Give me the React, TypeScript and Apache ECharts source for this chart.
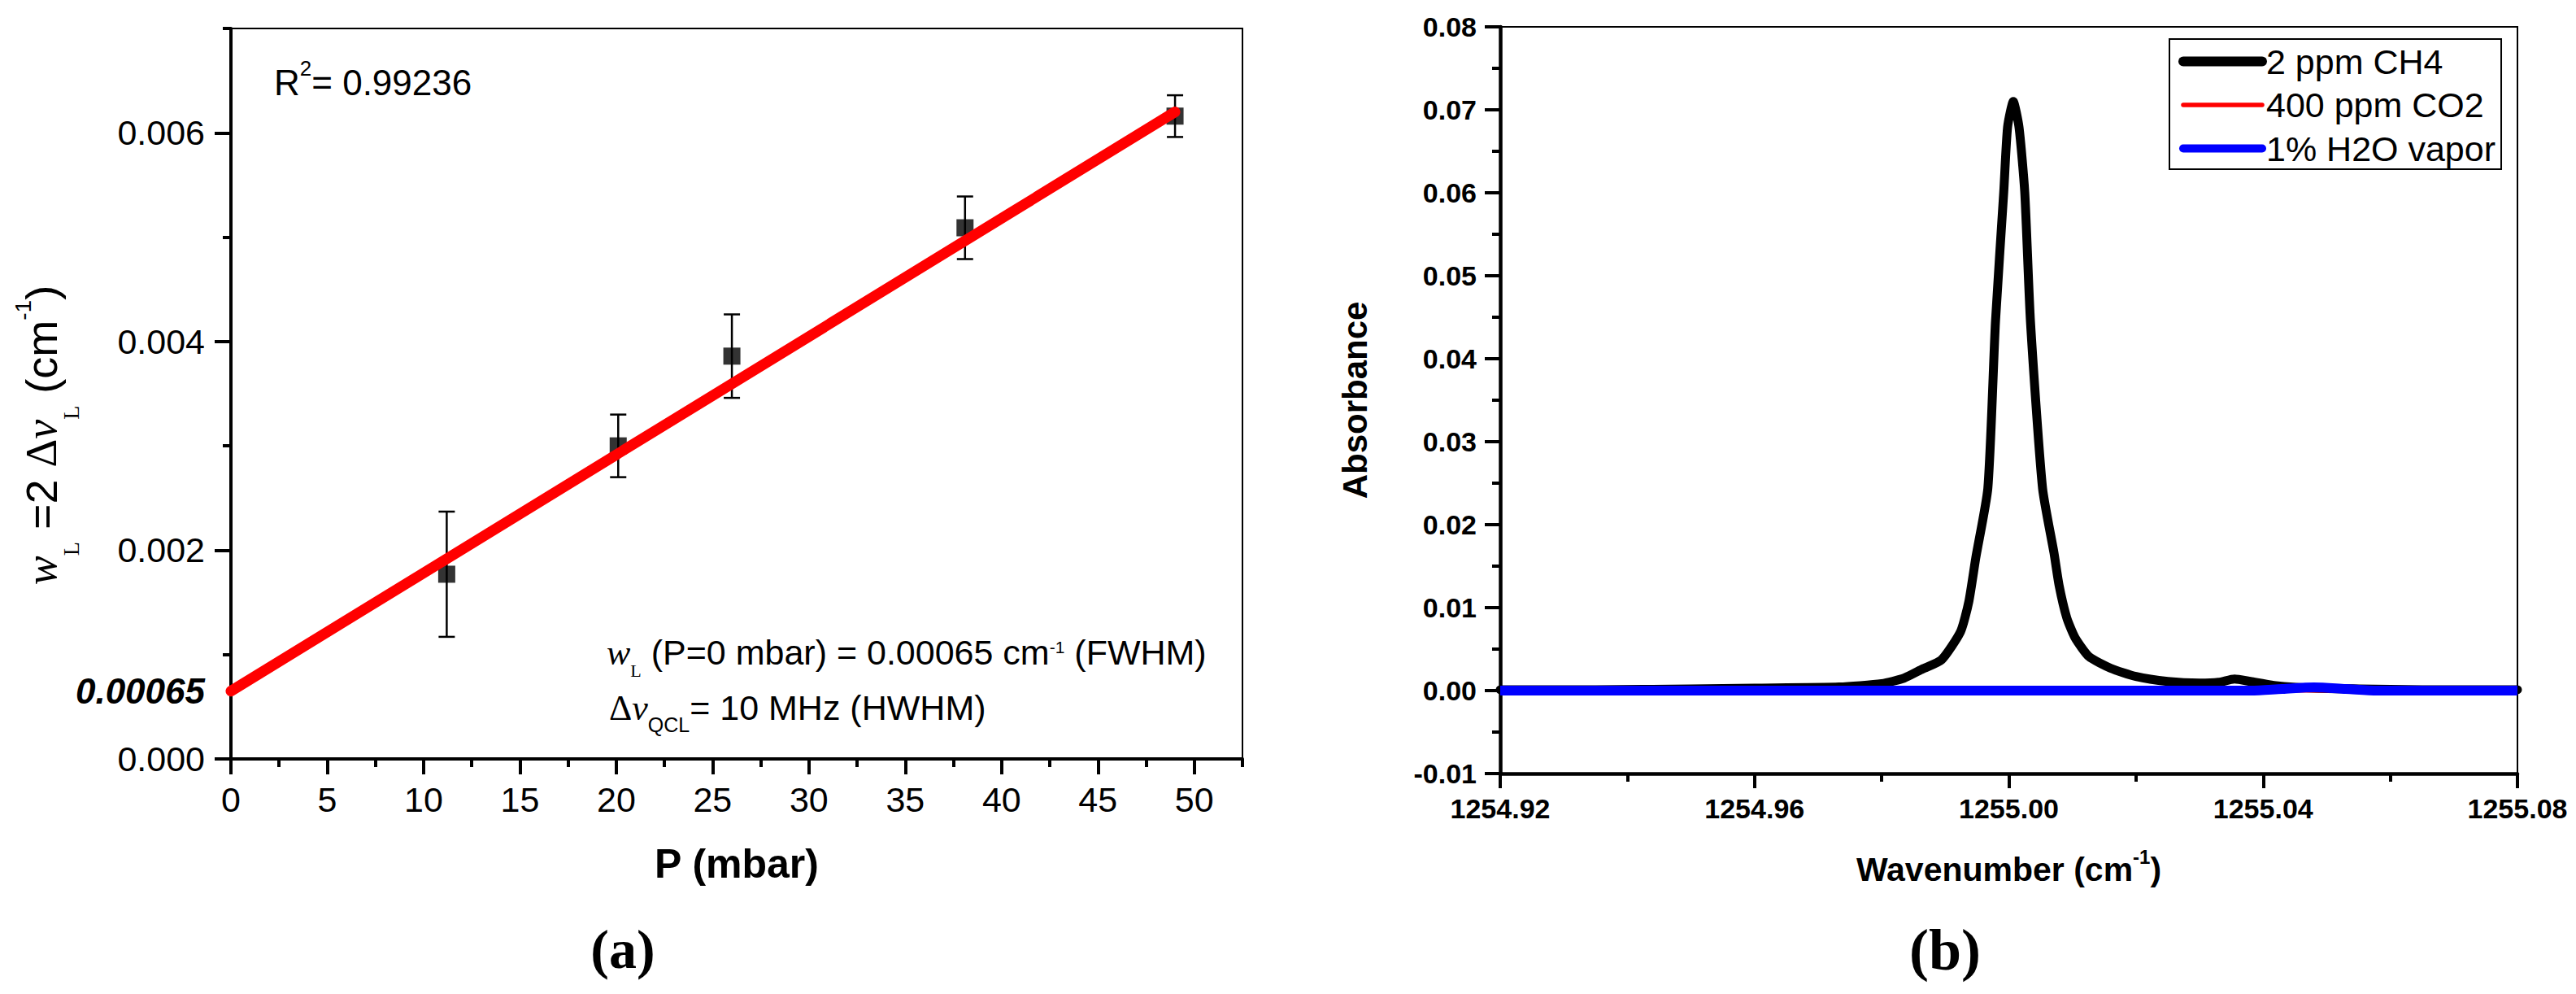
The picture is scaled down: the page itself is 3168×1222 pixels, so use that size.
import React, { useEffect, useRef } from 'react';
import * as echarts from 'echarts';

// ---------- Panel (a) data ----------
const pressure = [11.2, 20.1, 26.0, 38.1, 49.0];
const widthL = [0.00177, 0.0030, 0.00386, 0.00509, 0.00616];
const widthErr = [0.0006, 0.0003, 0.0004, 0.0003, 0.0002];
const fitP = [0, 49];
const fitW = [0.00065, 0.0062];
const aXTicks = [0, 5, 10, 15, 20, 25, 30, 35, 40, 45, 50];
const aXMinor = [2.5, 7.5, 12.5, 17.5, 22.5, 27.5, 32.5, 37.5, 42.5, 47.5, 52.5];
const aYTicks = [0, 0.002, 0.004, 0.006];
const aYLabels = [0, 0.00065, 0.002, 0.004, 0.006];
const aYMinor = [0.001, 0.003, 0.005, 0.007];

// ---------- Panel (b) data ----------
const ch4X = [1254.920, 1254.935, 1254.950, 1254.960, 1254.9733, 1254.980, 1254.9835, 1254.9864, 1254.9894, 1254.9924,
  1254.9937, 1254.9948, 1254.9967, 1254.9979, 1254.9992, 1254.9998, 1255.0007, 1255.0016, 1255.0025, 1255.0034,
  1255.0053, 1255.0071, 1255.0079, 1255.0091, 1255.0104, 1255.0126, 1255.0160, 1255.0200, 1255.0250, 1255.0300,
  1255.0330, 1255.0355, 1255.0380, 1255.0420, 1255.0480, 1255.0550, 1255.0650, 1255.0800];
const ch4Y = [0.0001, 0.0001, 0.0002, 0.0003, 0.00044, 0.00084, 0.0015, 0.0026, 0.0037, 0.0071,
  0.0107, 0.0160, 0.0244, 0.0445, 0.0601, 0.0679, 0.0710, 0.0679, 0.0601, 0.0445,
  0.0244, 0.0166, 0.0127, 0.0088, 0.0064, 0.0041, 0.0027, 0.0017, 0.0011, 0.0009,
  0.0010, 0.0014, 0.0011, 0.0006, 0.0003, 0.0002, 0.0001, 0.0001];
const co2X = [1254.92, 1255.08];
const co2Y = [0, 0];
const h2oX = [1254.92, 1255.038, 1255.043, 1255.048, 1255.053, 1255.058, 1255.08];
const h2oY = [0, 0, 0.0002, 0.0004, 0.0002, 0, 0];
const seriesNames = ['2 ppm CH4', '400 ppm CO2', '1% H2O vapor'];
const bXTicks = [1254.92, 1254.96, 1255.0, 1255.04, 1255.08];
const bXMinor = [1254.94, 1254.98, 1255.02, 1255.06];
const bYTicks = [-0.01, 0, 0.01, 0.02, 0.03, 0.04, 0.05, 0.06, 0.07, 0.08];
const bYMinor = [-0.005, 0.005, 0.015, 0.025, 0.035, 0.045, 0.055, 0.065, 0.075];

const SANS = "'Liberation Sans', Arial, Helvetica, sans-serif";
const SERIF = "'Liberation Serif', 'Times New Roman', serif";

const zip = (xs: number[], ys: number[]) => xs.map((x, i) => [x, ys[i]]);

function txt(style: any) {
  const s: any = { fill: '#000', ...style };
  if (s.align) { s.textAlign = s.align; }
  if (s.verticalAlign) { s.textVerticalAlign = s.verticalAlign; }
  return s;
}

function buildOption(): any {
  const axisLineStyle = (w: number) => ({ color: '#000', width: w });
  const minorAxis = (gridIndex: number, min: number, max: number, values: number[], pos: string) => ({
    gridIndex, type: 'value', min, max, position: pos,
    axisLine: { show: false, onZero: false },
    axisTick: { show: true, customValues: values, length: 10, lineStyle: { color: '#000', width: 4 } },
    axisLabel: { show: false },
    splitLine: { show: false },
  });

  return {
    animation: false,
    backgroundColor: '#ffffff',
    grid: [
      { left: 284, top: 35, width: 1244, height: 898, show: true, borderColor: '#000', borderWidth: 2, backgroundColor: 'transparent', outerBoundsMode: 'none' },
      { left: 284, top: 35, width: 1244, height: 898, outerBoundsMode: 'none' },
      { left: 1845, top: 33, width: 1251, height: 918, show: true, borderColor: '#000', borderWidth: 2, backgroundColor: 'transparent', outerBoundsMode: 'none' },
      { left: 1845, top: 33, width: 1251, height: 918, outerBoundsMode: 'none' },
    ],
    xAxis: [
      {
        gridIndex: 0, type: 'value', min: 0, max: 52.5, position: 'bottom',
        axisLine: { show: true, onZero: false, lineStyle: axisLineStyle(4) },
        axisTick: { show: true, customValues: aXTicks, length: 19, lineStyle: { color: '#000', width: 4 } },
        axisLabel: { show: true, customValues: aXTicks, margin: 28, fontSize: 43, fontFamily: SANS, color: '#000', formatter: (v: number) => String(v) },
        splitLine: { show: false },
        name: 'P (mbar)', nameLocation: 'middle', nameGap: 104, nameMoveOverlap: false,
        nameTextStyle: { fontSize: 50, fontWeight: 'bold', fontFamily: SANS, color: '#000' },
      },
      minorAxis(1, 0, 52.5, aXMinor, 'bottom'),
      {
        gridIndex: 2, type: 'value', min: 1254.92, max: 1255.08, position: 'bottom',
        axisLine: { show: true, onZero: false, lineStyle: axisLineStyle(4.5) },
        axisTick: { show: true, customValues: bXTicks, length: 18, lineStyle: { color: '#000', width: 4 } },
        axisLabel: { show: true, customValues: bXTicks, margin: 26, fontSize: 34, fontWeight: 'bold', fontFamily: SANS, color: '#000', formatter: (v: number) => v.toFixed(2) },
        splitLine: { show: false },
        name: '{n|Wavenumber (cm}{p|-1}{n|)}', nameLocation: 'middle', nameGap: 90, nameMoveOverlap: false,
        nameTextStyle: {
          fontSize: 41, fontWeight: 'bold', fontFamily: SANS, color: '#000',
          rich: {
            n: { fontSize: 41, fontWeight: 'bold', fontFamily: SANS, color: '#000', lineHeight: 56, verticalAlign: 'middle' },
            p: { fontSize: 24, fontWeight: 'bold', fontFamily: SANS, color: '#000', verticalAlign: 'top' },
          },
        },
      },
      minorAxis(3, 1254.92, 1255.08, bXMinor, 'bottom'),
    ],
    yAxis: [
      {
        gridIndex: 0, type: 'value', min: 0, max: 0.007, position: 'left',
        axisLine: { show: true, onZero: false, lineStyle: axisLineStyle(4) },
        axisTick: { show: true, customValues: aYTicks, length: 20, lineStyle: { color: '#000', width: 4 } },
        axisLabel: {
          show: true, customValues: aYLabels, margin: 32, fontSize: 43, fontFamily: SANS, color: '#000',
          formatter: (v: number) => (Math.abs(v - 0.00065) < 1e-9 ? '{b|0.00065}' : v.toFixed(3)),
          rich: { b: { fontSize: 44, fontWeight: 'bold', fontStyle: 'italic', fontFamily: SANS, color: '#000' } },
        },
        splitLine: { show: false },
      },
      minorAxis(1, 0, 0.007, aYMinor, 'left'),
      {
        gridIndex: 2, type: 'value', min: -0.01, max: 0.08, position: 'left',
        axisLine: { show: true, onZero: false, lineStyle: axisLineStyle(4.5) },
        axisTick: { show: true, customValues: bYTicks, length: 19, lineStyle: { color: '#000', width: 4 } },
        axisLabel: { show: true, customValues: bYTicks, margin: 29, fontSize: 34, fontWeight: 'bold', fontFamily: SANS, color: '#000', formatter: (v: number) => v.toFixed(2) },
        splitLine: { show: false },
        name: 'Absorbance', nameLocation: 'middle', nameGap: 158, nameMoveOverlap: false,
        nameTextStyle: { fontSize: 42, fontWeight: 'bold', fontFamily: SANS, color: '#000' },
      },
      minorAxis(3, -0.01, 0.08, bYMinor, 'left'),
    ],
    legend: {
      show: true, orient: 'vertical', left: 2668, top: 48,
      padding: [6, 7, 4, 11], itemGap: 10.5, itemWidth: 97, itemHeight: 5,
      borderColor: '#000', borderWidth: 2, backgroundColor: 'transparent',
      selectedMode: false,
      textStyle: { fontSize: 43, fontFamily: SANS, color: '#000' },
      lineStyle: { cap: 'round' },
      data: [
        { name: seriesNames[0], lineStyle: { width: 12, cap: 'round' } },
        { name: seriesNames[1], lineStyle: { width: 5.5, cap: 'round' } },
        { name: seriesNames[2], lineStyle: { width: 10, cap: 'round' } },
      ],
    },
    series: [
      {
        type: 'custom', xAxisIndex: 0, yAxisIndex: 0, z: 2, clip: false,
        data: pressure.map((p, i) => [p, widthL[i], widthErr[i]]),
        encode: { x: 0, y: 1 },
        renderItem: (_params: any, api: any) => {
          const x = api.value(0);
          const y = api.value(1);
          const e = api.value(2);
          const top = api.coord([x, y + e]);
          const bot = api.coord([x, y - e]);
          const hw = 10;
          const st = { stroke: '#000', lineWidth: 2.5 };
          return {
            type: 'group',
            children: [
              { type: 'line', shape: { x1: top[0], y1: top[1], x2: bot[0], y2: bot[1] }, style: st },
              { type: 'line', shape: { x1: top[0] - hw, y1: top[1], x2: top[0] + hw, y2: top[1] }, style: st },
              { type: 'line', shape: { x1: bot[0] - hw, y1: bot[1], x2: bot[0] + hw, y2: bot[1] }, style: st },
            ],
          };
        },
      },
      {
        type: 'scatter', xAxisIndex: 0, yAxisIndex: 0, z: 3,
        data: zip(pressure, widthL), symbol: 'rect', symbolSize: 21,
        itemStyle: { color: '#000' },
      },
      {
        type: 'line', xAxisIndex: 0, yAxisIndex: 0, z: 4,
        data: zip(fitP, fitW), symbol: 'none', showSymbol: false,
        lineStyle: { color: '#ff0000', width: 13, cap: 'round' },
      },
      {
        type: 'line', name: seriesNames[0], xAxisIndex: 2, yAxisIndex: 2, z: 2,
        data: zip(ch4X, ch4Y), symbol: 'none', showSymbol: false,
        smooth: 0.2,
        itemStyle: { color: '#000' },
        lineStyle: { color: '#000', width: 11, join: 'round', cap: 'round' },
      },
      {
        type: 'line', name: seriesNames[1], xAxisIndex: 2, yAxisIndex: 2, z: 3,
        data: zip(co2X, co2Y), symbol: 'none', showSymbol: false,
        itemStyle: { color: '#ff0000' },
        lineStyle: { color: '#ff0000', width: 5, join: 'round' },
      },
      {
        type: 'line', name: seriesNames[2], xAxisIndex: 2, yAxisIndex: 2, z: 4,
        data: zip(h2oX, h2oY), symbol: 'none', showSymbol: false,
        smooth: 0.3,
        itemStyle: { color: '#0000ff' },
        lineStyle: { color: '#0000ff', width: 12, join: 'round' },
      },
    ],
    graphic: [
      {
        type: 'text', x: 51, y: 535, rotation: Math.PI / 2,
        style: txt({
          text: '{iw|w}{s|L}{n| =2 }{g|Δ}{iw|ν}{s|L}{n| (cm}{p|-1}{n|)}',
          align: 'center', verticalAlign: 'middle',
          rich: {
            n: { fontSize: 54, fontFamily: SANS, lineHeight: 100, verticalAlign: 'middle', fill: '#000' },
            iw: { fontSize: 54, fontFamily: SERIF, fontStyle: 'italic', lineHeight: 100, verticalAlign: 'middle', fill: '#000' },
            g: { fontSize: 54, fontFamily: SERIF, lineHeight: 100, verticalAlign: 'middle', fill: '#000' },
            s: { fontSize: 28, fontFamily: SERIF, verticalAlign: 'bottom', fill: '#000' },
            p: { fontSize: 28, fontFamily: SANS, verticalAlign: 'top', padding: [13, 0, 0, 0], fill: '#000' },
          },
        }),
      },
      {
        type: 'text', x: 337, y: 101,
        style: txt({
          text: '{n|R}{p|2}{n|= 0.99236}',
          align: 'left', verticalAlign: 'middle',
          rich: {
            n: { fontSize: 44, fontFamily: SANS, lineHeight: 60, verticalAlign: 'middle', fill: '#000' },
            p: { fontSize: 26, fontFamily: SANS, verticalAlign: 'top', fill: '#000' },
          },
        }),
      },
      {
        type: 'text', x: 746, y: 802,
        style: txt({
          text: '{iw|w}{s|L}{n| (P=0 mbar) = 0.00065 cm}{p|-1}{n| (FWHM)}',
          align: 'left', verticalAlign: 'middle',
          rich: {
            n: { fontSize: 43, fontFamily: SANS, lineHeight: 66, verticalAlign: 'middle', fill: '#000' },
            iw: { fontSize: 44, fontFamily: SERIF, fontStyle: 'italic', lineHeight: 66, verticalAlign: 'middle', fill: '#000' },
            s: { fontSize: 22, fontFamily: SERIF, verticalAlign: 'bottom', fill: '#000' },
            p: { fontSize: 21, fontFamily: SANS, verticalAlign: 'top', padding: [16, 0, 0, 0], fill: '#000' },
          },
        }),
      },
      {
        type: 'text', x: 749, y: 870,
        style: txt({
          text: '{g|Δ}{iw|ν}{q|QCL}{n|= 10 MHz (HWHM)}',
          align: 'left', verticalAlign: 'middle',
          rich: {
            n: { fontSize: 43, fontFamily: SANS, lineHeight: 66, verticalAlign: 'middle', fill: '#000' },
            g: { fontSize: 44, fontFamily: SERIF, lineHeight: 66, verticalAlign: 'middle', fill: '#000' },
            iw: { fontSize: 44, fontFamily: SERIF, fontStyle: 'italic', lineHeight: 66, verticalAlign: 'middle', fill: '#000' },
            q: { fontSize: 25, fontFamily: SANS, verticalAlign: 'bottom', fill: '#000' },
          },
        }),
      },
      {
        type: 'text', x: 766, y: 1167,
        style: txt({ text: '(a)', fontSize: 68, fontWeight: 'bold', fontFamily: SERIF, align: 'center', verticalAlign: 'middle' }),
      },
      {
        type: 'text', x: 2392, y: 1168,
        style: txt({ text: '(b)', fontSize: 72, fontWeight: 'bold', fontFamily: SERIF, align: 'center', verticalAlign: 'middle' }),
      },
    ],
  };
}

export default function App() {
  const ref = useRef<HTMLDivElement>(null);
  useEffect(() => {
    if (!ref.current) return;
    const chart = echarts.init(ref.current, null, { renderer: 'svg', width: 3168, height: 1222 });
    chart.setOption(buildOption());
    return () => chart.dispose();
  }, []);
  return (
    <div
      ref={ref}
      style={{ position: 'absolute', left: 0, top: 0, width: 3168, height: 1222, background: '#fff' }}
    />
  );
}
